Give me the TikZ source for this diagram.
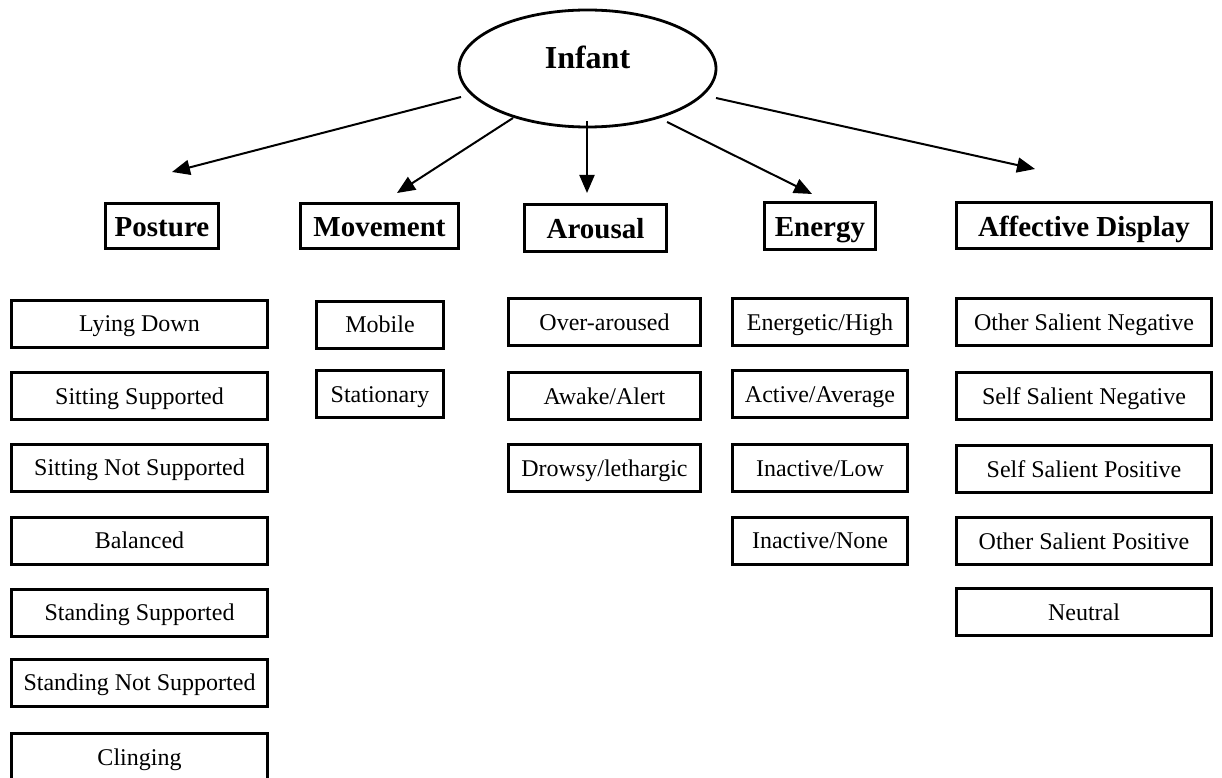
\documentclass[tikz,border=0pt]{standalone}
\usepackage{fontspec}
\setmainfont{Liberation Serif}
\usetikzlibrary{arrows.meta,shapes.geometric}
\tikzset{
  hdr/.style={draw,line width=3pt,inner sep=0pt,text height=21pt,text depth=0pt,font=\fontsize{29}{33}\selectfont\bfseries},
  sub/.style={draw,line width=3pt,inner sep=0pt,minimum height=47pt,text height=16.5pt,text depth=0pt,font=\fontsize{24}{28}\selectfont},
  conn/.style={line width=2pt,-{Triangle[length=18pt,width=15pt]}},
}
\begin{document}
\begin{tikzpicture}[x=1pt,y=-1pt]
\useasboundingbox (0,0) rectangle (1222,778);
\clip (0,0) rectangle (1222,778);
% root
\node[ellipse,draw,line width=2.8pt,minimum width=257pt,minimum height=117pt,inner sep=0pt] (infant) at (587.5,68.5) {};
\node[font=\fontsize{32}{36}\selectfont\bfseries,inner sep=0pt] (infanttext) at (587.5,57) {Infant};
% headers
\node[hdr,minimum width=113pt,minimum height=45pt] (posture) at (162,226) {Posture};
\node[hdr,minimum width=158pt,minimum height=45pt] (movement) at (379.5,226) {Movement};
\node[hdr,minimum width=142pt,minimum height=47pt] (arousal) at (595.5,228) {Arousal};
\node[hdr,minimum width=111pt,minimum height=47pt] (energy) at (820,226) {Energy};
\node[hdr,minimum width=255pt,minimum height=46pt] (affective) at (1084,225.5) {Affective Display};
% arrows
\coordinate (s1) at (461,97);
\coordinate (s2) at (513,118);
\coordinate (s3) at (587,121);
\coordinate (s4) at (667,122);
\coordinate (s5) at (716,98);
\coordinate (t1) at (172,172);
\coordinate (t2) at (397,193);
\coordinate (t3) at (587,193);
\coordinate (t4) at (812,194);
\coordinate (t5) at (1035,169);
\draw[conn] (s1) -- (t1);
\draw[conn] (s2) -- (t2);
\draw[conn] (s3) -- (t3);
\draw[conn] (s4) -- (t4);
\draw[conn] (s5) -- (t5);
% posture items
\node[sub,minimum width=256pt] (p1) at (139.5,323.5) {Lying Down};
\node[sub,minimum width=256pt] (p2) at (139.5,396) {Sitting Supported};
\node[sub,minimum width=256pt] (p3) at (139.5,467.5) {Sitting Not Supported};
\node[sub,minimum width=256pt] (p4) at (139.5,540.5) {Balanced};
\node[sub,minimum width=256pt] (p5) at (139.5,612.5) {Standing Supported};
\node[sub,minimum width=256pt] (p6) at (139.5,682.5) {Standing Not Supported};
\node[sub,minimum width=256pt] (p7) at (139.5,757) {Clinging};
% movement items
\node[sub,minimum width=127pt] (m1) at (380,324.5) {Mobile};
\node[sub,minimum width=127pt] (m2) at (380,394) {Stationary};
% arousal items
\node[sub,minimum width=192pt] (a1) at (604.5,322) {Over-aroused};
\node[sub,minimum width=192pt] (a2) at (604.5,396) {Awake/Alert};
\node[sub,minimum width=192pt] (a3) at (604.5,468) {Drowsy/lethargic};
% energy items
\node[sub,minimum width=175pt] (e1) at (820,322) {Energetic/High};
\node[sub,minimum width=175pt] (e2) at (820,394) {Active/Average};
\node[sub,minimum width=175pt] (e3) at (820,468) {Inactive/Low};
\node[sub,minimum width=175pt] (e4) at (820,540.5) {Inactive/None};
% affective items
\node[sub,minimum width=255pt] (d1) at (1084,322) {Other Salient Negative};
\node[sub,minimum width=255pt] (d2) at (1084,396) {Self Salient Negative};
\node[sub,minimum width=255pt] (d3) at (1084,469) {Self Salient Positive};
\node[sub,minimum width=255pt] (d4) at (1084,541) {Other Salient Positive};
\node[sub,minimum width=255pt] (d5) at (1084,612) {Neutral};
\end{tikzpicture}
\end{document}
